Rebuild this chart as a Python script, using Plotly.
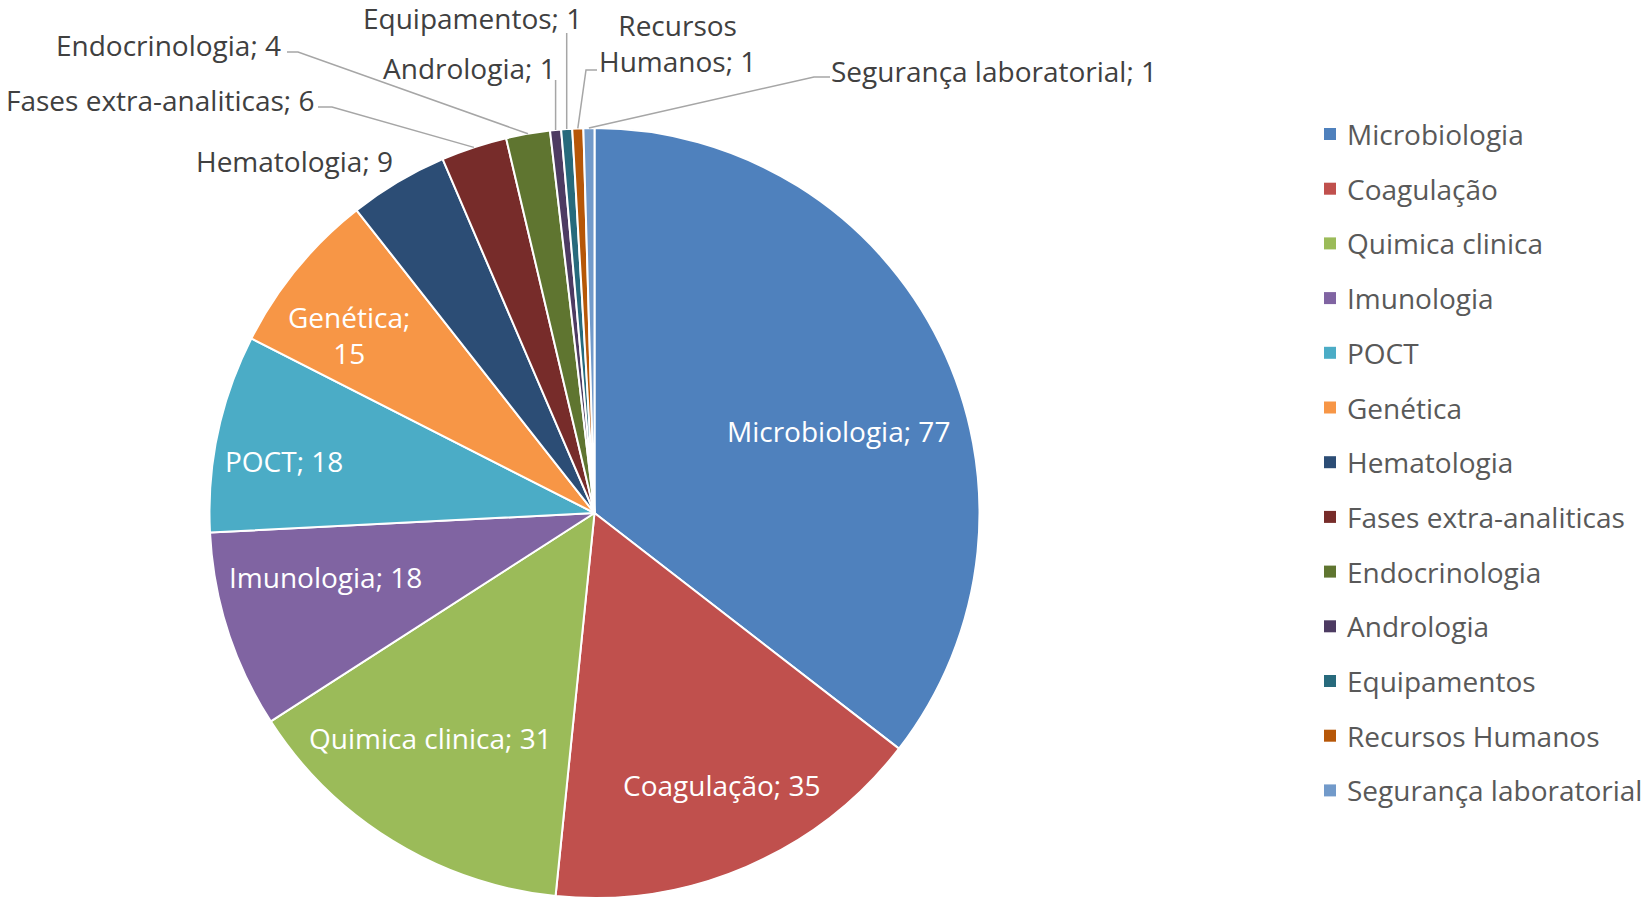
import math
import plotly.graph_objects as go

# ---------------- data ----------------
categories = ["Microbiologia", "Coagulação", "Quimica clinica", "Imunologia", "POCT",
              "Genética", "Hematologia", "Fases extra-analiticas", "Endocrinologia",
              "Andrologia", "Equipamentos", "Recursos Humanos", "Segurança laboratorial"]
values = [77, 35, 31, 18, 18, 15, 9, 6, 4, 1, 1, 1, 1]

# ---------------- styles ----------------
colors = ["#4F81BD", "#C0504D", "#9BBB59", "#8064A2", "#4BACC6", "#F79646", "#2C4D75",
          "#772C2A", "#5F7530", "#4D3B62", "#276A7C", "#B65708", "#729ACA"]

W, H = 1642, 900
CX, CY, R = 594.5, 513.0, 385.0
FONT = "Open Sans"
FS = 28
LEADER = "#A6A6A6"

# label layout (pixel positions of label centres) and label mode
label_pos = {
    "Microbiologia": (838, 431, "in", ""),
    "Coagulação": (722, 785, "in", ""),
    "Quimica clinica": (430, 738, "in", ""),
    "Imunologia": (325, 577, "in", ""),
    "POCT": (284, 461, "in", ""),
    "Genética": (349, 335, "in", "br"),
    "Hematologia": (294, 161, "out", ""),
    "Fases extra-analiticas": (160, 100, "out", ""),
    "Endocrinologia": (168, 45, "out", ""),
    "Andrologia": (469, 68, "out", ""),
    "Equipamentos": (472, 18, "out", ""),
    "Recursos Humanos": (677, 43, "out", "br"),
    "Segurança laboratorial": (994, 71, "out", ""),
}
# leader-line waypoints (pixels) before reaching the slice edge
leaders = {
    "Fases extra-analiticas": [(318, 107), (332, 107)],
    "Endocrinologia": [(287, 52), (298, 52)],
    "Andrologia": "vertical:80",
    "Equipamentos": "vertical:33",
    "Recursos Humanos": [(597, 70), (586, 70)],
    "Segurança laboratorial": [(830, 77), (814, 77)],
}

fig = go.Figure()
fig.add_trace(go.Pie(
    labels=categories, values=values, sort=False, direction="clockwise", rotation=0,
    marker=dict(colors=colors, line=dict(color="white", width=2)),
    textinfo="none", showlegend=False,
    domain=dict(x=[(CX - R) / W, (CX + R) / W], y=[1 - (CY + R) / H, 1 - (CY - R) / H]),
    hoverinfo="label+value+percent",
))

# slice mid angles from data
total = sum(values)
mids = []
cum = 0
for v in values:
    mids.append((cum + v / 2) / total * 2 * math.pi)
    cum += v


def edge(i, rr=R):
    a = mids[i]
    return CX + rr * math.sin(a), CY - rr * math.cos(a)


annotations = []
shapes = []
for i, (cat, val) in enumerate(zip(categories, values)):
    x, y, mode, brk = label_pos[cat]
    if brk:
        if cat == "Genética":
            txt = f"{cat};<br>{val}"
        else:
            parts = cat.split(" ", 1)
            txt = f"{parts[0]}<br>{parts[1]}; {val}"
    else:
        txt = f"{cat}; {val}"
    annotations.append(dict(
        x=x, y=y, xref="x", yref="y", text=txt, showarrow=False,
        xanchor="center", yanchor="middle", align="center",
        font=dict(family=FONT, size=FS, color="white" if mode == "in" else "#404040"),
    ))
    if cat in leaders:
        ax, ay = edge(i)
        spec = leaders[cat]
        if isinstance(spec, str):
            y0 = float(spec.split(":")[1])
            pts = [(ax, y0), (ax, ay)]
        else:
            pts = list(spec) + [(ax, ay)]
        path = "M " + " L ".join(f"{px:.1f},{py:.1f}" for px, py in pts)
        shapes.append(dict(type="path", path=path, xref="x", yref="y",
                           line=dict(color=LEADER, width=1.5), layer="above"))

# legend (manual, to match spacing)
LEG_X, LEG_Y0, LEG_DY = 1330, 134, 54.7
leg_y = [LEG_Y0 + k * LEG_DY for k in range(len(categories))]
fig.add_trace(go.Scatter(
    x=[LEG_X] * len(categories), y=leg_y, mode="markers",
    marker=dict(symbol="square", size=12, color=colors, line=dict(width=0)),
    showlegend=False, hoverinfo="skip",
))
for cat, yy in zip(categories, leg_y):
    annotations.append(dict(
        x=LEG_X + 15, y=yy, xref="x", yref="y", text=cat, showarrow=False,
        xanchor="left", yanchor="middle",
        font=dict(family=FONT, size=FS, color="#595959"),
    ))

fig.update_layout(
    width=W, height=H,
    margin=dict(l=0, r=0, t=0, b=0),
    paper_bgcolor="white", plot_bgcolor="rgba(0,0,0,0)",
    xaxis=dict(range=[0, W], visible=False, domain=[0, 1], fixedrange=True),
    yaxis=dict(range=[H, 0], visible=False, domain=[0, 1], fixedrange=True),
    annotations=annotations, shapes=shapes,
    showlegend=False,
)

fig.write_html(
    "out.html",
    config={"displayModeBar": False},
    post_script="document.body.style.margin='0px';document.body.style.overflow='hidden';",
)
